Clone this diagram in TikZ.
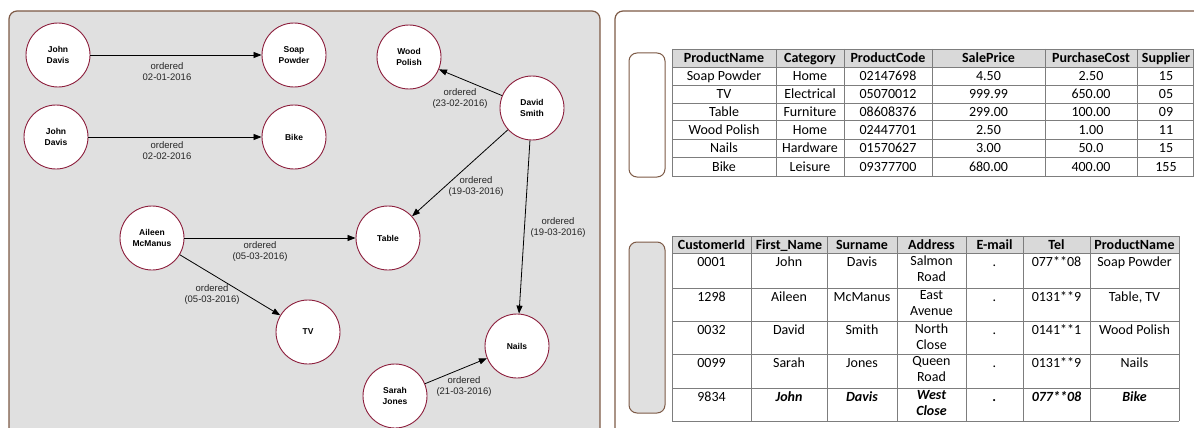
\documentclass[tikz,border=0pt]{standalone}
\usepackage{fontspec}
\setmainfont{Liberation Sans}
\newfontfamily\tabfont{Carlito}
\usetikzlibrary{arrows.meta}
\definecolor{panelbrown}{RGB}{125,90,70}
\definecolor{panelgray}{RGB}{224,224,224}
\definecolor{circred}{RGB}{140,30,60}
\definecolor{headgray}{RGB}{217,217,217}
\definecolor{gridgray}{RGB}{125,125,125}
\tikzset{
  ent/.style={circle, draw=circred, fill=white, line width=0.9pt, minimum size=64pt, inner sep=0pt, align=center, font=\fontsize{8.5}{11}\selectfont\bfseries},
  rel/.style={-{Triangle[length=8pt,width=6pt]}, line width=0.8pt, black},
  lbl/.style={align=center, font=\fontsize{9.5}{11}\selectfont, text=black!85, inner sep=0pt},
  panel/.style={draw=panelbrown, line width=1.2pt, rounded corners=8pt},
  grid/.style={draw=gridgray, line width=0.8pt},
  hcell/.style={anchor=base, inner sep=0pt, font=\tabfont\fontsize{14}{16}\selectfont\bfseries},
  cell/.style={anchor=base, inner sep=0pt, font=\tabfont\fontsize{14}{16}\selectfont},
  mcell/.style={anchor=north, inner sep=0pt, align=center, font=\tabfont\fontsize{14}{16}\selectfont, execute at begin node=\strut},
  bmcell/.style={mcell, font=\tabfont\fontsize{14}{16}\selectfont\bfseries\itshape}
}
\begin{document}
\begin{tikzpicture}[x=1pt,y=-1pt]
\useasboundingbox (0,0) rectangle (1194,428);
\clip (0,0) rectangle (1194,428);
% panels
\path[panel, fill=panelgray] (9,11) rectangle (600,450);
\path[panel, fill=white] (615,11) rectangle (1220,450);
\path[panel, fill=white, line width=1pt] (629,53) rectangle (665,177);
\path[panel, fill=panelgray, line width=1pt] (629,242) rectangle (665,413);

% graph nodes
\node[ent] (jd1) at (58,55) {John\\Davis};
\node[ent] (soap) at (294,55) {Soap\\Powder};
\node[ent] (jd2) at (56,137) {John\\Davis};
\node[ent] (bike) at (294,137) {Bike};
\node[ent] (wood) at (409,57) {Wood\\Polish};
\node[ent] (david) at (532,108) {David\\Smith};
\node[ent] (table) at (388,238) {Table};
\node[ent] (aileen) at (152,238) {Aileen\\McManus};
\node[ent] (tv) at (308,332) {TV};
\node[ent] (nails) at (517,346) {Nails};
\node[ent] (sarah) at (395,396) {Sarah\\Jones};

% edges
\draw[rel] (jd1) -- (soap);
\draw[rel] (jd2) -- (bike);
\draw[rel] (david) -- (wood);
\draw[rel] (david) -- (table);
\draw[rel] (david) -- (nails);
\draw[rel] (aileen) -- (table);
\draw[rel] (aileen) -- (tv);
\draw[rel] (sarah) -- (nails);

% edge labels
\node[lbl] (l1) at (167,71.5) {ordered\\02-01-2016};
\node[lbl] (l2) at (167,150.5) {ordered\\02-02-2016};
\node[lbl] (l3) at (460,98.5) {ordered\\(23-02-2016)};
\node[lbl] (l4) at (476,186.5) {ordered\\(19-03-2016)};
\node[lbl] (l5) at (558,227.5) {ordered\\(19-03-2016)};
\node[lbl] (l6) at (260,251.5) {ordered\\(05-03-2016)};
\node[lbl] (l7) at (212,294.5) {ordered\\(05-03-2016)};
\node[lbl] (l8) at (464,386.5) {ordered\\(21-03-2016)};

% ---------- table 1 ----------
\fill[headgray] (672,49) rectangle (1194,67);
\foreach \y in {49,67,85,103,120,139,157,176} \draw[grid] (672,\y) -- (1196,\y);
\foreach \x in {672,776,844,932,1045,1137,1193.5} \draw[grid] (\x,49) -- (\x,176);
\foreach \t [count=\c] in {ProductName,Category,ProductCode,SalePrice,PurchaseCost,Supplier}{
  \pgfmathsetmacro{\cx}{{724,810,888,988.5,1091,1166}[\c-1]}
  \node[hcell] (ta-h\c) at (\cx,62.5) {\t};
}
\foreach \yc/\a/\b/\cc/\d/\e/\f [count=\r] in {
  80.5/Soap Powder/Home/02147698/4.50/2.50/15,
  98.5/TV/Electrical/05070012/999.99/650.00/05,
  116/Table/Furniture/08608376/299.00/100.00/09,
  134/Wood Polish/Home/02447701/2.50/1.00/11,
  152.5/Nails/Hardware/01570627/3.00/50.0/15,
  171/Bike/Leisure/09377700/680.00/400.00/155}{
  \node[cell] (ta-\r-1) at (724,\yc) {\a};
  \node[cell] (ta-\r-2) at (810,\yc) {\b};
  \node[cell] (ta-\r-3) at (888,\yc) {\cc};
  \node[cell] (ta-\r-4) at (988.5,\yc) {\d};
  \node[cell] (ta-\r-5) at (1091,\yc) {\e};
  \node[cell] (ta-\r-6) at (1166,\yc) {\f};
}

% ---------- table 2 ----------
\fill[headgray] (672,236) rectangle (1179,253);
\foreach \y in {236,253,288,321,354,388,421} \draw[grid] (672,\y) -- (1179,\y);
\foreach \x in {672,751,827,897,966,1023,1090,1179} \draw[grid] (\x,236) -- (\x,421);
\foreach \t [count=\c] in {CustomerId,First\_Name,Surname,Address,E-mail,Tel,ProductName}{
  \pgfmathsetmacro{\cx}{{711.5,789,862,931.5,994.5,1056.5,1134.5}[\c-1]}
  \node[hcell] (tb-h\c) at (\cx,249) {\t};
}
\foreach \yt/\i/\a/\b/\cc/\e/\f [count=\r] in {
  255.3/0001/John/Davis/Salmon\\Road/077**08/Soap Powder,
  290.3/1298/Aileen/McManus/East\\Avenue/0131**9/{Table, TV},
  323.3/0032/David/Smith/North\\Close/0141**1/Wood Polish,
  356.3/0099/Sarah/Jones/Queen\\Road/0131**9/Nails}{
  \node[mcell] (tb-\r-1) at (711.5,\yt) {\i};
  \node[mcell] (tb-\r-2) at (789,\yt) {\a};
  \node[mcell] (tb-\r-3) at (862,\yt) {\b};
  \node[mcell] (tb-\r-4) at (931.5,\yt) {\cc};
  \node[mcell] (tb-\r-5) at (994.5,\yt) {.};
  \node[mcell] (tb-\r-6) at (1056.5,\yt) {\e};
  \node[mcell] (tb-\r-7) at (1134.5,\yt) {\f};
}
\node[mcell] (tb-5-1) at (711.5,390.3) {9834};
\node[bmcell] (tb-5-2) at (789,390.3) {John};
\node[bmcell] (tb-5-3) at (862,390.3) {Davis};
\node[bmcell] (tb-5-4) at (931.5,390.3) {West\\Close};
\node[bmcell] (tb-5-5) at (994.5,390.3) {.};
\node[bmcell] (tb-5-6) at (1056.5,390.3) {077**08};
\node[bmcell] (tb-5-7) at (1134.5,390.3) {Bike};
\end{tikzpicture}
\end{document}
